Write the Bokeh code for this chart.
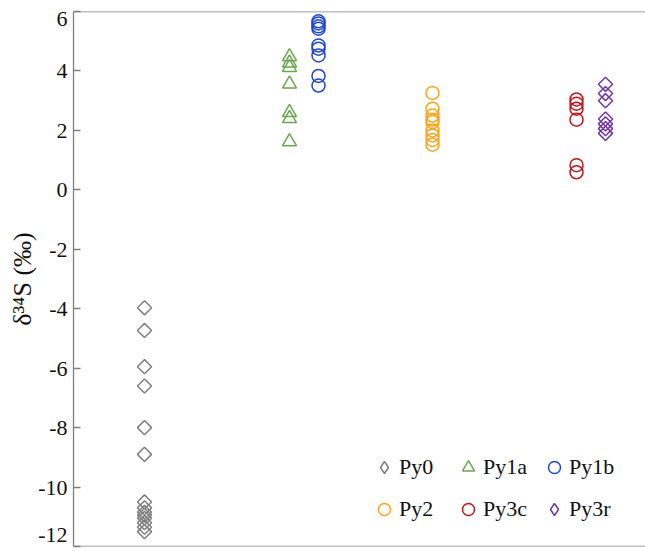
import math
from bokeh.plotting import figure
from bokeh.models import Range1d, Span, Legend, LegendItem, FixedTicker
from bokeh.embed import file_html
from bokeh.resources import INLINE

# ---- data ----
groups = ["Py0", "Py1a", "Py1b", "Py2", "Py3c", "Py3r"]
group_x = [1.42, 4.32, 4.90, 7.18, 10.06, 10.64]

py0 = [-3.97, -4.73, -5.95, -6.60, -8.00, -8.90, -10.50, -10.70, -10.85, -10.95,
       -11.05, -11.20, -11.35, -11.50]
py1a = [4.48, 4.27, 4.12, 3.56, 2.60, 2.40, 1.62]
py1b = [5.67, 5.60, 5.50, 5.42, 4.86, 4.75, 4.52, 3.83, 3.51]
py2 = [3.26, 2.73, 2.50, 2.36, 2.28, 2.00, 1.83, 1.68, 1.52]
py3c = [3.04, 2.90, 2.73, 2.36, 0.83, 0.59]
py3r = [3.55, 3.24, 3.00, 2.38, 2.22, 2.06, 1.90]
series = [py0, py1a, py1b, py2, py3c, py3r]

y_ticks = [-12, -10, -8, -6, -4, -2, 0, 2, 4, 6]
y_label = "δ³⁴S (‰)"

# ---- styles ----
colors = ["#7f7f7f", "#6aa84f", "#1f45d6", "#ffa31a", "#c0161c", "#7536a8"]
markers = ["square", "triangle", "circle", "circle", "circle", "square"]
legend_markers = ["diamond", "triangle", "circle", "circle", "circle", "diamond"]
sizes = [10, 14, 13, 13, 13, 10]
angles = [math.pi / 4, 0, 0, 0, 0, math.pi / 4]

FONT = "'Liberation Serif', 'Times New Roman', 'DejaVu Serif', serif"
AX = "#808080"
TXT = "#111111"

x_lo, x_hi = 0, 11.44
p = figure(width=645, height=551, output_backend="svg", toolbar_location=None,
           x_range=Range1d(x_lo, x_hi), y_range=Range1d(y_ticks[0], y_ticks[-1]),
           x_axis_location=None, y_axis_location="left",
           min_border_left=73, min_border_right=0, min_border_top=11,
           min_border_bottom=5)
p.outline_line_color = None
p.grid.visible = False
p.background_fill_color = "white"
p.border_fill_color = "white"

# end labels nudged inward (as in the reference) via an empty neighbouring line
overrides = {}
for t in y_ticks:
    s = str(t)
    if t == y_ticks[-1]:
        s = "\n" + s
    elif t == y_ticks[0]:
        s = s + "\n"
    overrides[t] = s

yax = p.yaxis[0]
yax.ticker = FixedTicker(ticks=y_ticks)
yax.major_label_overrides = overrides
yax.major_label_text_line_height = 0.2
yax.axis_line_color = AX
yax.axis_line_width = 1.3
yax.major_tick_line_color = AX
yax.major_tick_line_width = 1.3
yax.major_tick_in = 7
yax.major_tick_out = 0
yax.minor_tick_line_color = None
yax.major_label_text_font = FONT
yax.major_label_text_font_size = "22px"
yax.major_label_text_color = TXT
yax.major_label_standoff = 6
yax.axis_label = y_label
yax.axis_label_text_font = FONT
yax.axis_label_text_font_size = "26px"
yax.axis_label_text_font_style = "normal"
yax.axis_label_text_color = TXT
yax.axis_label_standoff = -2

p.add_layout(Span(location=y_ticks[-1], dimension="width", line_color=AX, line_width=1.3))
p.add_layout(Span(location=y_ticks[0], dimension="width", line_color=AX, line_width=1.3))

items = []
for name, gx, vals, c, m, lm, s, a in zip(groups, group_x, series, colors, markers,
                                          legend_markers, sizes, angles):
    xs = [gx] * len(vals)
    r = p.scatter(x=xs, y=vals, marker=m, size=s, angle=a,
                  fill_color=None, line_color=c, line_width=1.5)
    if lm != m:
        # legend-only twin (same data, hidden) so the key shows a diamond
        r_leg = p.scatter(x=xs, y=vals, marker=lm, size=s,
                          fill_color=None, line_color=c, line_width=1.5, visible=False)
        items.append(LegendItem(label=name, renderers=[r_leg]))
    else:
        items.append(LegendItem(label=name, renderers=[r]))

legend = Legend(items=items, orientation="horizontal", ncols=3,
                location=(296, 22), padding=0, margin=0, spacing=12,
                glyph_width=30, glyph_height=30, label_height=30,
                label_width=42, label_standoff=-1,
                label_text_font=FONT, label_text_font_size="22px",
                label_text_color=TXT, inactive_fill_alpha=0,
                border_line_color=None, background_fill_alpha=0)
p.add_layout(legend, "center")

open("out.html", "w").write(file_html(p, INLINE))
